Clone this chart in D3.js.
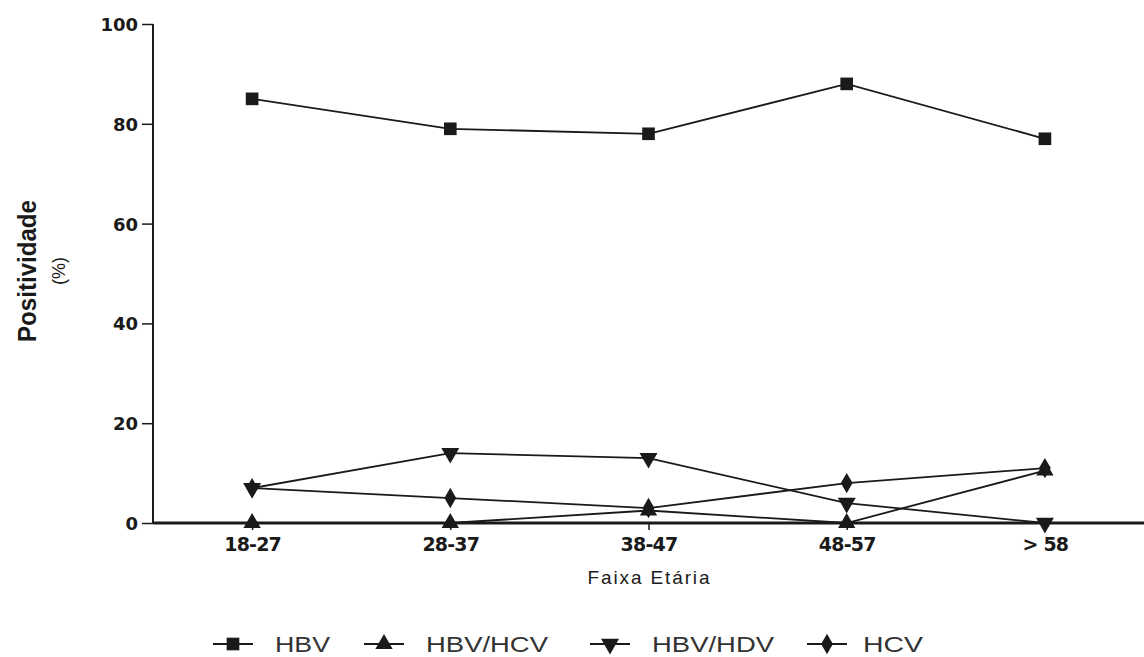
<!DOCTYPE html>
<html>
<head>
<meta charset="utf-8">
<script src="https://cdn.jsdelivr.net/npm/d3@7"></script>
<style>
  body { margin: 0; background: #fff; }
  text { font-family: "Liberation Sans", Arial, sans-serif; fill: #1a1a1a; }
</style>
</head>
<body>
<div class="canvas"></div>
<script>
// Data
const ageGroups = ['18-27', '28-37', '38-47', '48-57', '> 58'];
const hbv    = [85, 79, 78, 88, 77];
const hbvHcv = [0, 0, 2.5, 0, 10.5];
const hbvHdv = [7, 14, 13, 4, 0];
const hcv    = [7, 5, 3, 8, 11];
const yTicks = [0, 20, 40, 60, 80, 100];

const seriesNames = ['HBV', 'HBV/HCV', 'HBV/HDV', 'HCV'];
const seriesValues = [hbv, hbvHcv, hbvHdv, hcv];
const seriesShapes = ['square', 'triangle', 'triangleDown', 'diamond'];

// Graph set up
const svgWidth = 1144;
const svgHeight = 657;
const margin = {top: 24, right: 0, bottom: 134, left: 153};
const graphWidth = svgWidth - margin.left - margin.right;
const graphHeight = svgHeight - margin.top - margin.bottom;

const svg = d3.select('.canvas')
    .append('svg')
    .attr('width', svgWidth)
    .attr('height', svgHeight);

const graph = svg.append('g')
    .attr('transform', `translate(${margin.left},${margin.top})`);

// Scales
const x = d3.scalePoint().domain(ageGroups).range([0, graphWidth]).padding(0.5);
const y = d3.scaleLinear().domain([0, 100]).range([graphHeight, 0]);

// Axes
const yAxis = d3.axisLeft(y).tickValues(yTicks).tickSize(11).tickPadding(4);
const xAxis = d3.axisBottom(x).tickSize(7).tickPadding(8);

const yAxisGroup = graph.append('g').attr('class', 'y-axis').call(yAxis);
yAxisGroup.select('.domain').attr('d', `M0,0V${graphHeight}`).attr('stroke', '#1a1a1a').attr('stroke-width', 2);
yAxisGroup.selectAll('.tick line').attr('stroke', '#1a1a1a').attr('stroke-width', 1.5);
yAxisGroup.selectAll('text')
    .style('font-family', '"DejaVu Sans", sans-serif')
    .style('font-size', '18px')
    .style('font-weight', 'bold')
    .style('fill', '#1a1a1a')
    .attr('dy', '0.36em');

const xAxisGroup = graph.append('g')
    .attr('class', 'x-axis')
    .attr('transform', `translate(0,${graphHeight})`)
    .call(xAxis);
xAxisGroup.select('.domain').attr('d', `M0,0H${graphWidth}`).attr('stroke', '#1a1a1a').attr('stroke-width', 3);
xAxisGroup.selectAll('.tick line').attr('stroke', '#1a1a1a').attr('stroke-width', 1.5);
xAxisGroup.selectAll('text')
    .style('font-family', '"DejaVu Sans", sans-serif')
    .style('font-size', '19px')
    .style('font-weight', 'bold')
    .style('fill', '#1a1a1a')
    .style('letter-spacing', '-0.8px');

// Axis titles
svg.append('text')
    .attr('transform', 'translate(36,271) rotate(-90)')
    .attr('text-anchor', 'middle')
    .attr('textLength', 142)
    .attr('lengthAdjust', 'spacingAndGlyphs')
    .style('font-size', '26px')
    .style('font-weight', 'bold')
    .text('Positividade');

svg.append('text')
    .attr('transform', 'translate(65,271) rotate(-90)')
    .attr('text-anchor', 'middle')
    .style('font-size', '18px')
    .text('(%)');

svg.append('text')
    .attr('x', margin.left + x('38-47'))
    .attr('y', 584)
    .attr('text-anchor', 'middle')
    .attr('textLength', 122)
    .attr('lengthAdjust', 'spacing')
    .style('font-size', '19px')
    .text('Faixa Etária');

// Marker shapes
const symbols = {
    square: d3.symbol().type(d3.symbolSquare).size(160),
    triangle: d3.symbol().type(d3.symbolTriangle).size(130),
    triangleDown: d3.symbol().type(d3.symbolTriangle).size(140),
    diamond: d3.symbol().type(d3.symbolDiamond).size(120)
};
const rotation = s => s === 'triangleDown' ? 'rotate(180)' : '';

// Lines
const line = d3.line()
    .x((d, i) => x(ageGroups[i]))
    .y(d => y(d));

seriesValues.forEach((vals, s) => {
    graph.append('path')
        .datum(vals)
        .attr('fill', 'none')
        .attr('stroke', '#1a1a1a')
        .attr('stroke-width', 1.8)
        .attr('d', line);
});

seriesValues.forEach((vals, s) => {
    graph.selectAll(`.m${s}`)
        .data(vals)
        .enter()
        .append('path')
        .attr('class', `m${s}`)
        .attr('d', symbols[seriesShapes[s]])
        .attr('fill', '#1a1a1a')
        .attr('transform', (d, i) => `translate(${x(ageGroups[i])},${y(d)}) ${rotation(seriesShapes[s])}`);
});

// Legend
const legendX = [233, 384, 610, 827];
const legendTextLen = [55, 122, 122, 60];
const legend = svg.append('g').attr('class', 'legend');
seriesNames.forEach((name, s) => {
    const g = legend.append('g').attr('transform', `translate(${legendX[s]},644)`);
    g.append('line')
        .attr('x1', -20).attr('x2', 20)
        .attr('stroke', '#1a1a1a')
        .attr('stroke-width', 1.8);
    g.append('path')
        .attr('d', symbols[seriesShapes[s]])
        .attr('fill', '#1a1a1a')
        .attr('transform', rotation(seriesShapes[s]));
    g.append('text')
        .attr('x', s === 3 ? 36 : 42)
        .attr('dy', '0.36em')
        .attr('textLength', legendTextLen[s])
        .attr('lengthAdjust', 'spacingAndGlyphs')
        .style('font-size', '22px')
        .style('fill', '#333')
        .text(name);
});
</script>
</body>
</html>
